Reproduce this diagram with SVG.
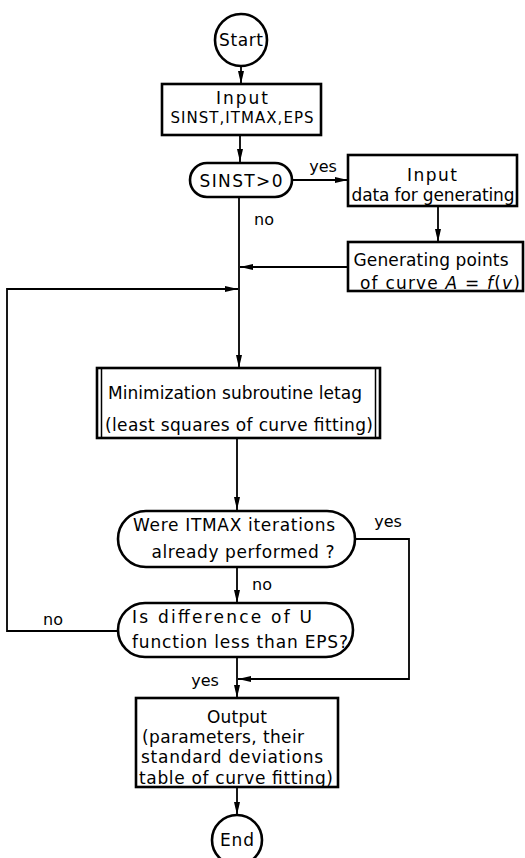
<svg xmlns="http://www.w3.org/2000/svg" width="525" height="858" viewBox="0 0 525 858">
<defs>
<marker id="ah" markerWidth="13" markerHeight="8" refX="13" refY="4" orient="auto" markerUnits="userSpaceOnUse">
<path d="M0,1 L13,4 L0,7 Z" fill="#000"/>
</marker>
<style>
.n{fill:#fff;stroke:#000;stroke-width:2.6}
.c{fill:none;stroke:#000;stroke-width:1.8}
.t{font-family:"DejaVu Sans","Liberation Sans",sans-serif;font-size:17px;fill:#000;text-anchor:middle}
.s{font-size:15px}
.l{font-family:"DejaVu Sans","Liberation Sans",sans-serif;font-size:16px;fill:#000;text-anchor:middle}
.i{font-style:italic}
</style>
</defs>
<rect width="525" height="858" fill="#fff"/>
<g id="connectors">
<line class="c" x1="241" y1="66" x2="241" y2="84" marker-end="url(#ah)"/>
<line class="c" x1="240" y1="135" x2="240" y2="162" marker-end="url(#ah)"/>
<line class="c" x1="292" y1="180" x2="348" y2="180" marker-end="url(#ah)"/>
<line class="c" x1="438" y1="206" x2="438" y2="242" marker-end="url(#ah)"/>
<line class="c" x1="348" y1="267" x2="240" y2="267" marker-end="url(#ah)"/>
<line class="c" x1="239" y1="197" x2="239" y2="368" marker-end="url(#ah)"/>
<polyline class="c" points="118,631 7,631 7,289 238,289" stroke-width="1.4" marker-end="url(#ah)"/>
<line class="c" x1="237" y1="438" x2="237" y2="510" marker-end="url(#ah)"/>
<line class="c" x1="237" y1="567" x2="237" y2="603" marker-end="url(#ah)"/>
<line class="c" x1="237" y1="657" x2="237" y2="698" marker-end="url(#ah)"/>
<polyline class="c" points="355,539 409,539 409,679 238,679" stroke-width="1.4" marker-end="url(#ah)"/>
<line class="c" x1="237" y1="787" x2="237" y2="815" marker-end="url(#ah)"/>
<text class="l" x="323" y="172">yes</text>
<text class="l" x="264" y="225">no</text>
<text class="l" x="388" y="527">yes</text>
<text class="l" x="262" y="590">no</text>
<text class="l" x="53" y="625">no</text>
<text class="l" x="205" y="686">yes</text>
</g>
<g id="start">
<circle class="n" cx="241" cy="40" r="26"/>
<text class="t" x="241" y="46" textLength="44">Start</text>
</g>
<g id="input">
<rect class="n" x="162" y="84" width="159" height="51"/>
<text class="t" x="242" y="104" font-size="18" textLength="52">Input</text>
<text class="t s" x="242" y="123" textLength="143">SINST,ITMAX,EPS</text>
</g>
<g id="sinst">
<rect class="n" x="190" y="163" width="102" height="34" rx="17"/>
<text class="t" x="241" y="187" font-size="18" textLength="83">SINST&gt;0</text>
</g>
<g id="inputdata">
<rect class="n" x="348" y="155" width="169" height="51"/>
<text class="t" x="432" y="181" textLength="50">Input</text>
<text class="t" x="433" y="201" textLength="163">data for generating</text>
</g>
<g id="generating">
<rect class="n" x="348" y="242" width="175" height="49"/>
<text class="t" x="431" y="266" textLength="155">Generating points</text>
<text class="t" x="440" y="289" textLength="160">of curve <tspan class="i">A</tspan>  = <tspan class="i">f</tspan>(<tspan class="i">v</tspan>)</text>
</g>
<g id="minimization">
<rect class="n" x="97" y="368" width="283" height="70"/>
<line x1="101.5" y1="368" x2="101.5" y2="438" stroke="#000" stroke-width="1.5"/>
<line x1="375.5" y1="368" x2="375.5" y2="438" stroke="#000" stroke-width="1.5"/>
<text class="t" x="235" y="399" textLength="254">Minimization subroutine letag</text>
<text class="t" x="239" y="431" textLength="268">(least squares of curve fitting)</text>
</g>
<g id="itmax">
<rect class="n" x="118" y="511" width="237" height="56" rx="28"/>
<text class="t" x="234" y="531" textLength="202">Were ITMAX iterations</text>
<text class="t" x="243" y="558" textLength="183">already performed ?</text>
</g>
<g id="eps">
<rect class="n" x="118" y="603" width="235" height="54" rx="27"/>
<text class="t" x="222" y="623" textLength="180">Is difference of  U</text>
<text class="t" x="240" y="648" textLength="216">function less than EPS?</text>
</g>
<g id="output">
<rect class="n" x="136" y="698" width="202" height="89"/>
<text class="t" x="237" y="723" textLength="60">Output</text>
<text class="t" x="223" y="743" textLength="162">(parameters, their</text>
<text class="t" x="232" y="763" textLength="182">standard deviations</text>
<text class="t" x="236" y="784" textLength="194">table of curve fitting)</text>
</g>
<g id="end">
<circle class="n" cx="237" cy="840" r="25"/>
<text class="t" x="237" y="846" textLength="34">End</text>
</g>
</svg>
